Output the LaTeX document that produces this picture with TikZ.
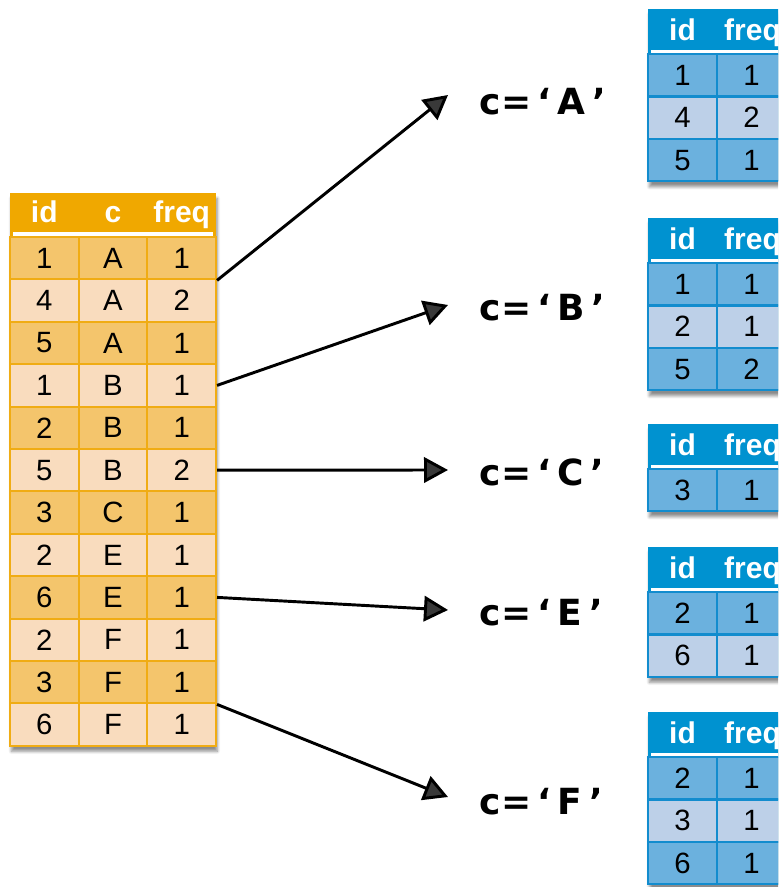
\documentclass[tikz,border=0pt]{standalone}
\usepackage{fontspec}
\setmainfont{Liberation Sans}
\newfontfamily\labfont{DejaVu Sans}
\usetikzlibrary{arrows.meta,shadows.blur}
\definecolor{ohead}{RGB}{240,168,0}
\definecolor{odark}{RGB}{244,197,108}
\definecolor{olight}{RGB}{249,220,190}
\definecolor{oline}{RGB}{240,172,20}
\definecolor{bhead}{RGB}{0,146,208}
\definecolor{bdark}{RGB}{107,177,222}
\definecolor{blight}{RGB}{189,208,232}
\definecolor{bline}{RGB}{18,140,206}
\begin{document}
\begin{tikzpicture}[x=0.75pt,y=-0.75pt,
		cell/.style={minimum width=51.5pt,minimum height=31.8pt,inner sep=0pt,line width=1.5pt,font=\fontsize{22}{24}\selectfont},
		ocell/.style={cell,draw=oline},
		bcell/.style={cell,draw=bline},
		hd/.style={text=white,inner sep=0pt,text height=16pt,text depth=4.5pt,font=\fontsize{22.5}{24}\selectfont\bfseries},
		shade/.style={blur shadow={shadow xshift=1pt,shadow yshift=-4pt,shadow blur steps=8,shadow opacity=45}},
		lab/.style={anchor=west,inner sep=0pt,font=\labfont\bfseries\fontsize{27}{30}\selectfont},
		arr/.style={line width=2.2pt,-{Triangle[length=18pt,width=19pt]}}]
			\useasboundingbox (0,0) rectangle (778,887);
			\clip (0,0) rectangle (778,887);
			% full table on the left
			\fill[ohead,shade] (10,193) rectangle (216,746);
			\foreach \j/\x/\t in {1/44.3/id,2/113/c,3/181.7/freq}{
				\node[hd] (L0-\j) at (\x,215) {\t};
			}
			\draw[white,line width=2.8pt] (13,234)--(213,234);
			\foreach \i/\a/\b/\c/\f in {1/1/A/1/odark,2/4/A/2/olight,3/5/A/1/odark,4/1/B/1/olight,
				5/2/B/1/odark,6/5/B/2/olight,7/3/C/1/odark,8/2/E/1/olight,9/6/E/1/odark,
				10/2/F/1/olight,11/3/F/1/odark,12/6/F/1/olight}{
				\pgfmathsetmacro\yy{237+42.4*(\i-0.5)}
				\node[ocell,fill=\f] (L\i-1) at (44.3,\yy) {\a};
				\node[ocell,fill=\f] (L\i-2) at (113,\yy) {\b};
				\node[ocell,fill=\f] (L\i-3) at (181.7,\yy) {\c};
			}
			% one small table per value of c
			\foreach \n/\t/\m/\ly/\ty/\rows in {A/9/3/102/95/{1/1/1/bdark,2/4/2/blight,3/5/1/bdark},
				B/218/3/308/305/{1/1/1/bdark,2/2/1/blight,3/5/2/bdark},
				C/424/1/472/470/{1/3/1/bdark},
				E/547/2/613/610/{1/2/1/bdark,2/6/1/blight},
				F/712/3/802/797/{1/2/1/bdark,2/3/1/blight,3/6/1/bdark}}{
				\fill[bhead,shade] (648,\t) rectangle (800,{\t+45+42.5*\m});
				\node[hd] (\n0-1) at (682.5,{\t+24}) {id};
				\node[hd] (\n0-2) at (752.5,{\t+24}) {freq};
				\draw[white,line width=2.8pt] (651,{\t+43})--(800,{\t+43});
				\foreach \i/\a/\b/\f in \rows{
					\pgfmathsetmacro\yy{\t+45+42.5*(\i-0.5)}
					\node[bcell,fill=\f] (\n\i-1) at (682.5,\yy) {\a};
					\node[bcell,fill=\f] (\n\i-2) at (751.5,\yy) {\b};
				}
				\node[lab] (lab\n) at (479,\ly) {c\kern1pt=\kern4pt‘\kern5pt\n\kern5pt’};
				\coordinate (tip\n) at (448,\ty);
			}
			\foreach \s/\n in {L1-3.south east/A,L4-3.east/B,L6-3.east/C,L9-3.east/E,L11-3.south east/F}{
				\draw[arr] (\s)--(tip\n);
			}
		\end{tikzpicture}
\end{document}
